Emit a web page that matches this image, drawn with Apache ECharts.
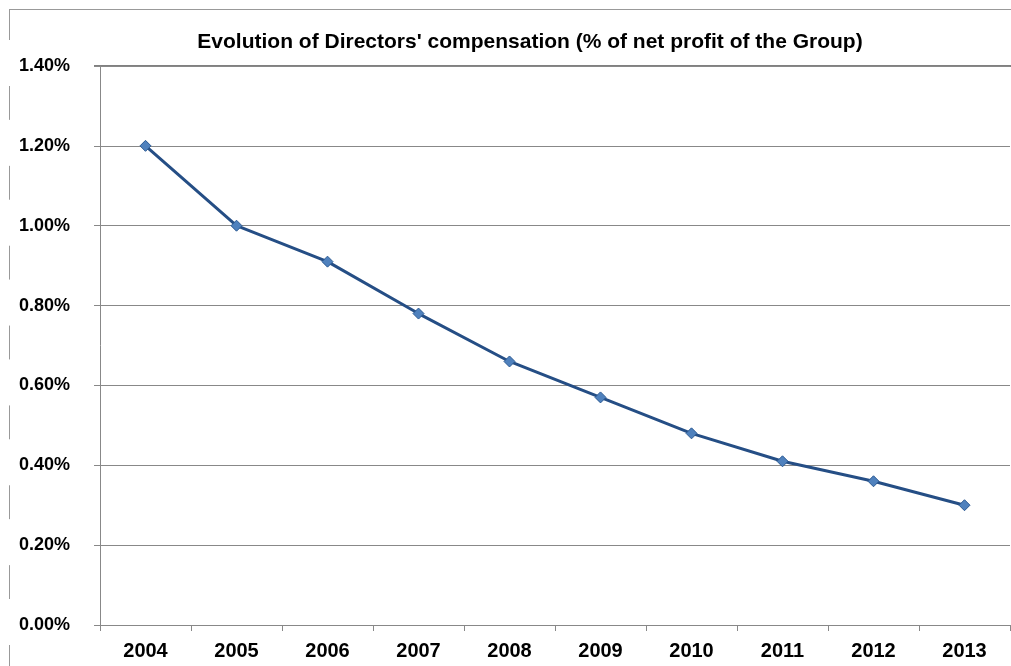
<!DOCTYPE html>
<html>
<head>
<meta charset="utf-8">
<script src="https://cdn.jsdelivr.net/npm/echarts@6/dist/echarts.min.js"></script>
<style>
  html, body { margin: 0; padding: 0; background: #fff; }
  #main { width: 1011px; height: 666px; }
</style>
</head>
<body>
<div id="main"></div>
<script>
const years = ['2004', '2005', '2006', '2007', '2008', '2009', '2010', '2011', '2012', '2013']
// directors' compensation as % of net profit
const compensation = [1.20, 1.00, 0.91, 0.78, 0.66, 0.57, 0.48, 0.41, 0.36, 0.30]
const yTicks = [0, 0.2, 0.4, 0.6, 0.8, 1.0, 1.2, 1.4]

const font = '"Liberation Sans", Arial, sans-serif'
const chart = echarts.init(document.getElementById('main'))

// broken left border of the scanned frame, with gaps beside the tick labels
const gridTop = 66
const gridBottom = 625
const borderParts = []
let start = 9
yTicks.slice().reverse().forEach(v => {
  const y = gridBottom - (gridBottom - gridTop) * v / 1.4
  borderParts.push({ type: 'line', shape: { x1: 9.5, y1: start, x2: 9.5, y2: y - 26 }, style: { stroke: '#999', lineWidth: 1 } })
  start = y + 20
})
borderParts.push({ type: 'line', shape: { x1: 9.5, y1: start, x2: 9.5, y2: 666 }, style: { stroke: '#999', lineWidth: 1 } })

chart.setOption({
  animation: false,
  backgroundColor: '#fff',
  title: {
    text: "Evolution of Directors' compensation (% of net profit of the Group)",
    left: 525,
    top: 27,
    textAlign: 'center',
    textStyle: { fontFamily: font, fontSize: 21, fontWeight: 'bold', color: '#000' }
  },
  graphic: [
    { type: 'line', shape: { x1: 9, y1: 9.5, x2: 1011, y2: 9.5 }, style: { stroke: '#999', lineWidth: 1 } },
    { type: 'line', shape: { x1: 94, y1: 66, x2: 1011, y2: 66 }, style: { stroke: '#808080', lineWidth: 2 } }
  ].concat(borderParts),
  grid: { left: 100, right: 1, top: gridTop, bottom: 666 - gridBottom },
  xAxis: {
    type: 'category',
    data: years,
    boundaryGap: true,
    axisLine: { lineStyle: { color: '#888', width: 1 } },
    axisTick: { show: true, length: 6, lineStyle: { color: '#888' } },
    axisLabel: { fontFamily: font, fontSize: 20, fontWeight: 'bold', color: '#000', margin: 16 }
  },
  yAxis: {
    type: 'value',
    min: 0,
    max: 1.4,
    interval: 0.2,
    axisLine: { show: true, lineStyle: { color: '#888', width: 1 } },
    axisTick: { show: true, length: 6, lineStyle: { color: '#888' } },
    splitLine: { lineStyle: { color: '#888', width: 1 } },
    axisLabel: {
      fontFamily: font, fontSize: 18, fontWeight: 'bold', color: '#000', margin: 30,
      formatter: v => v.toFixed(2) + '%'
    }
  },
  series: [{
    type: 'line',
    data: compensation,
    symbol: 'diamond',
    symbolSize: 11,
    lineStyle: { color: '#254e85', width: 3 },
    itemStyle: { color: '#4f81bd', borderColor: '#2c5a93', borderWidth: 1 }
  }]
})
</script>
</body>
</html>
